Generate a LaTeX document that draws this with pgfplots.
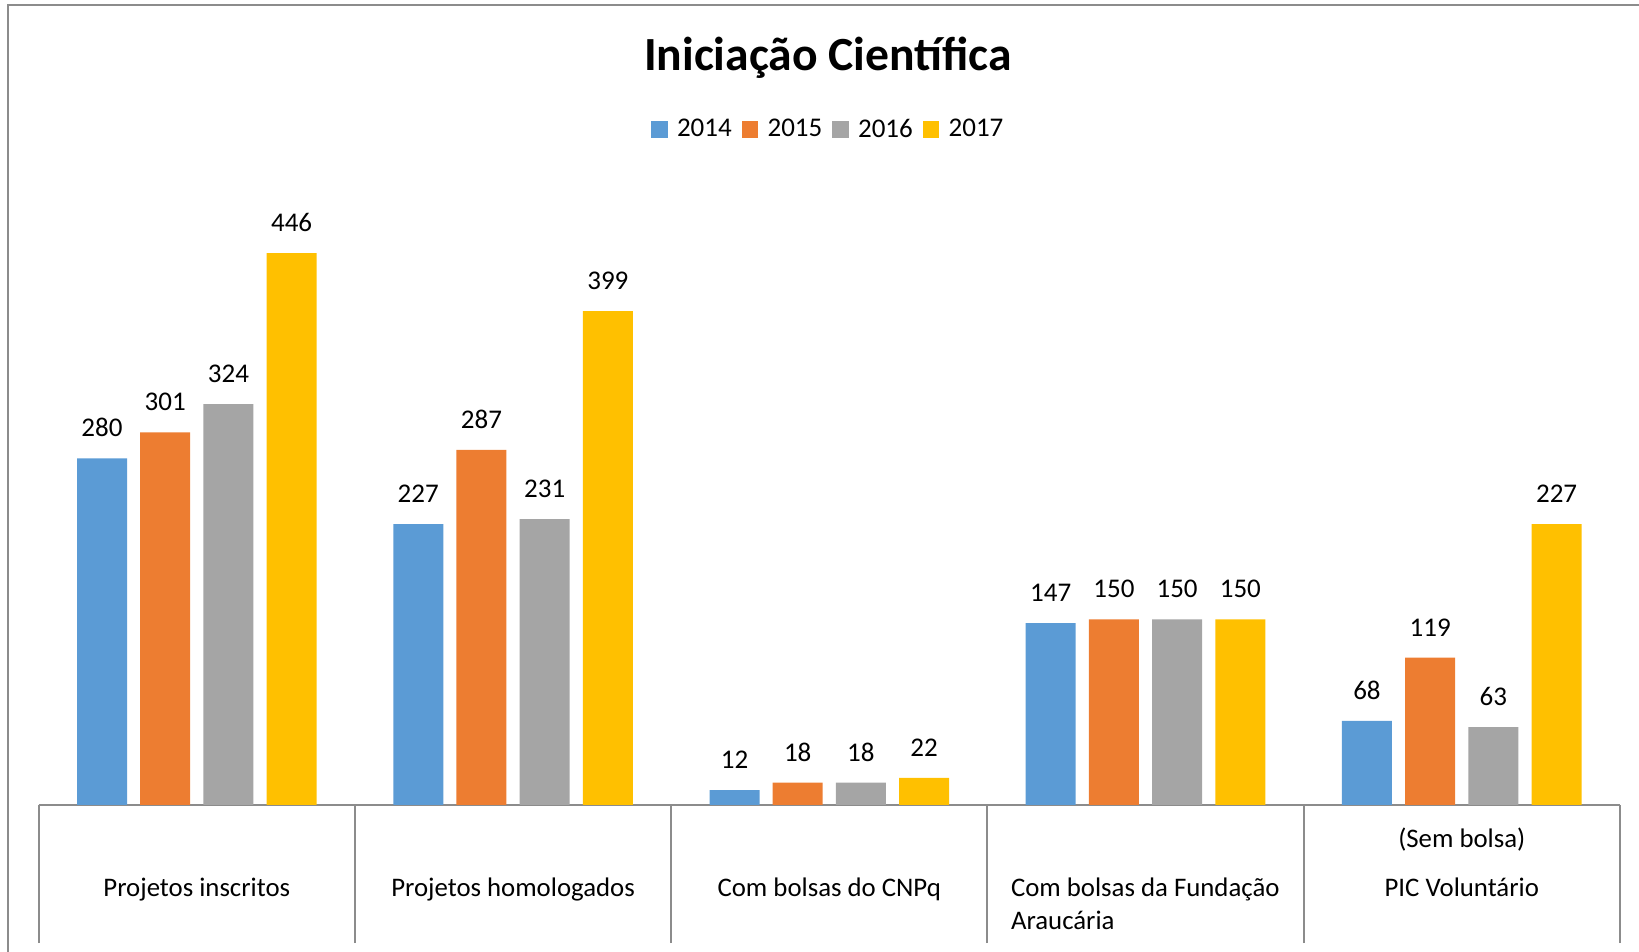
\documentclass[border=0pt]{standalone}
\usepackage{pgfplots}
\pgfplotsset{compat=1.18}
\usepackage{fontspec}
\setmainfont{Carlito}
\definecolor{c14}{HTML}{5B9BD5}
\definecolor{c15}{HTML}{ED7D31}
\definecolor{c16}{HTML}{A5A5A5}
\definecolor{c17}{HTML}{FFC000}
\definecolor{frame}{HTML}{8C8C8C}
\begin{document}
\begin{tikzpicture}
\useasboundingbox (0,0) rectangle (819.5pt,476pt);
\draw[frame, line width=1pt] (4pt,0) -- (4pt,473.5pt) -- (819.5pt,473.5pt);
\begin{axis}[
  at={(19.35pt,73.5pt)}, anchor=south west,
  scale only axis, width=790.6pt, height=309.4pt,
  xmin=-0.5, xmax=4.5, ymin=0, ymax=500,
  axis x line*=bottom, axis y line=none,
  axis line style={frame, line width=1pt, -},
  xtick={-0.5,0.5,1.5,2.5,3.5,4.5}, xticklabel=\empty,
  major tick length=69pt, tick align=outside,
  x tick style={frame, line width=1pt},
  ytick=\empty,
  ybar=6.6pt, bar width=25pt,
  clip=false,
  /pgf/number format/assume math mode=true,
  nodes near coords,
  every node near coord/.append style={font=\fontsize{13.5}{16}\selectfont, anchor=south, inner sep=0pt, yshift=10.5pt, text=black},
  legend columns=4,
  legend style={at={(0.5,1)}, anchor=center, yshift=28.3pt, draw=none, font=\fontsize{13.5}{16}\selectfont,
    /tikz/every even column/.append style={column sep=3pt}},
  legend image code/.code={\fill[#1] (0pt,-4.1pt) rectangle (8.3pt,4.1pt); \path (10.9pt,0pt);},
]
\addplot[fill=c14, draw=none] coordinates {(0,280) (1,227) (2,12) (3,147) (4,68)};
\addplot[fill=c15, draw=none] coordinates {(0,301) (1,287) (2,18) (3,150) (4,119)};
\addplot[fill=c16, draw=none] coordinates {(0,324) (1,231) (2,18) (3,150) (4,63)};
\addplot[fill=c17, draw=none] coordinates {(0,446) (1,399) (2,22) (3,150) (4,227)};
\legend{2014,2015,2016,2017}
\node[anchor=base, font=\fontsize{13.4}{16}\selectfont, yshift=-46pt] at (axis cs:0,0) {Projetos inscritos};
\node[anchor=base, font=\fontsize{13.4}{16}\selectfont, yshift=-46pt] at (axis cs:1,0) {Projetos homologados};
\node[anchor=base, font=\fontsize{13.4}{16}\selectfont, yshift=-46pt] at (axis cs:2,0) {Com bolsas do CNPq};
\node[anchor=base west, font=\fontsize{13.4}{16}\selectfont, yshift=-46pt, xshift=11.6pt, inner sep=0pt] at (axis cs:2.5,0) {Com bolsas da Fundação};
\node[anchor=base west, font=\fontsize{13.4}{16}\selectfont, yshift=-62.2pt, xshift=11.6pt, inner sep=0pt] at (axis cs:2.5,0) {Araucária};
\node[anchor=base, font=\fontsize{13.4}{16}\selectfont, yshift=-21.4pt] at (axis cs:4,0) {(Sem bolsa)};
\node[anchor=base, font=\fontsize{13.4}{16}\selectfont, yshift=-46pt] at (axis cs:4,0) {PIC Voluntário};
\end{axis}
\node[font=\fontsize{23.8}{28}\selectfont\bfseries] at (414pt,447.3pt) {Iniciação Científica};
\end{tikzpicture}
\end{document}
